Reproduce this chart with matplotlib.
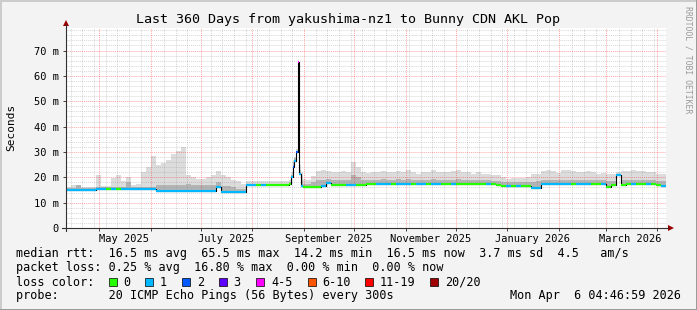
import datetime as dt

import matplotlib
matplotlib.use("Agg")
import matplotlib.dates as mdates
import matplotlib.pyplot as plt
import numpy as np
from matplotlib.lines import Line2D
from matplotlib.patches import Polygon, Rectangle

W, H = 697, 310

start = dt.datetime(2025, 4, 11, 4, 47)
end = start + dt.timedelta(days=360)

# sample days (3-day steps, daily around the late-August spike)
days = list(range(0, 133, 3)) + list(range(133, 143)) + list(range(144, 358, 3))

# median rtt in ms
median = [
    15.0, 15.0, 15.0, 15.0, 15.0, 15.0,
    15.3, 15.3, 15.3, 15.3, 15.3, 15.3, 15.3, 15.3, 15.3, 15.3, 15.3, 15.3,
    14.5, 14.5, 14.5, 14.5, 14.5, 14.5, 14.5, 14.5, 14.5, 14.5, 14.5, 14.5,
    16.0,
    14.3, 14.3, 14.3, 14.3, 14.3,
    17.0, 16.8, 16.8, 16.8, 16.8, 16.8, 16.8, 16.8, 16.8,
    # spike
    16.8, 17.5, 20.3, 24.2, 26.5, 29.8, 65.5, 21.5, 16.5, 16.3,
    16.3, 16.3, 16.3, 16.5, 17.6, 17.0, 17.0, 17.0, 17.0, 17.0, 17.0, 17.0, 17.2,
    17.3, 17.3, 17.3, 17.3, 17.3, 17.3, 17.3, 17.3, 17.3, 17.3, 17.3, 17.3, 17.3,
    17.3, 17.3, 17.3, 17.3, 17.3, 17.3, 17.3, 17.3, 17.3, 17.3, 17.3, 17.3,
    17.0, 16.7, 16.7, 16.7, 16.7, 16.7, 16.7,
    15.7, 15.7,
    17.3, 17.3, 17.3, 17.3, 17.3, 17.3, 17.3, 17.3, 17.3, 17.3, 17.3, 17.3, 17.3,
    16.0, 17.0, 21.0, 17.0,
    17.3, 17.3, 17.3, 17.3, 17.3, 17.3,
    17.0, 16.6,
]

# lost pings per sample -> index into loss_colors
loss = [
    1, 1, 1, 1, 1, 1,
    1, 1, 0, 1, 0, 1, 1, 1, 1, 1, 1, 1,
    1, 1, 1, 1, 1, 1, 1, 1, 1, 1, 1, 1,
    1,
    1, 1, 1, 1, 1,
    1, 1, 0, 1, 0, 0, 0, 0, 0,
    0, 0, 1, 2, 1, 2, 4, 1, 1, 0,
    0, 0, 0, 1, 1, 0, 0, 0, 1, 1, 0, 0, 0,
    0, 1, 1, 1, 0, 1, 1, 1, 0, 1, 1, 0, 1,
    1, 0, 0, 1, 0, 0, 0, 0, 0, 0, 1, 0,
    0, 0, 1, 0, 1, 0, 0,
    1, 1,
    1, 1, 1, 1, 1, 1, 0, 1, 1, 1, 0, 0, 1,
    0, 0, 1, 0,
    0, 1, 0, 0, 1, 0,
    0, 1,
]

# top of the smoke (highest ping), ms
smoke_hi = [
    16.0, 17.0, 16.5, 16.0, 16.0, 16.0,
    21.0, 16.5, 16.5, 19.8, 21.0, 18.5, 20.3, 17.0, 17.5, 22.0, 24.0, 28.5,
    25.0, 25.5, 27.0, 29.0, 30.5, 32.0, 21.0, 20.0, 19.5, 19.5, 20.0, 21.0,
    22.3,
    21.0, 20.0, 19.0, 18.5, 17.5,
    18.5, 18.5, 18.5, 18.5, 18.5, 18.5, 18.5, 18.5, 18.5,
    18.5, 19.0, 22.0, 27.0, 28.0, 31.0, 66.0, 25.0, 22.0, 19.5,
    19.0, 20.5, 22.5, 23.0, 22.5, 22.0, 22.0, 22.5, 22.0, 26.0, 24.0, 22.0, 21.7,
    22.0, 22.0, 22.5, 22.0, 22.0, 22.5, 22.0, 23.0, 22.0, 21.5, 22.0, 22.0, 23.0,
    22.0, 22.0, 22.0, 22.5, 23.0, 22.0, 22.0, 21.5, 22.0, 21.5, 21.5, 21.0,
    21.0, 20.0, 19.5, 19.7, 19.7, 19.7, 20.0,
    21.5, 21.5,
    22.5, 23.0, 22.5, 21.7, 22.7, 23.0, 22.5, 22.0, 22.0, 22.5, 22.0, 21.5, 21.7,
    21.5, 21.5, 22.0, 22.5,
    22.5, 23.0, 22.5, 22.5, 22.0, 22.0,
    21.5, 21.5,
]

# top of the dense (darker) part of the smoke, ms
smoke_mid = [
    15.6, 15.6, 16.8, 15.6, 15.6, 15.6,
    16.0, 16.0, 16.0, 16.0, 16.0, 16.0, 18.0, 16.0, 16.0, 16.0, 16.0, 16.0,
    17.0, 17.0, 17.0, 17.0, 17.0, 17.0, 17.5, 17.0, 17.0, 17.0, 17.0, 17.0,
    18.0,
    16.5, 16.5, 16.0, 15.5, 15.5,
    17.5, 17.5, 17.5, 17.5, 17.5, 17.5, 17.5, 17.5, 17.5,
    17.5, 18.0, 21.0, 26.0, 27.5, 30.5, 66.0, 23.0, 19.0, 17.5,
    17.5, 18.0, 19.0, 19.0, 19.5, 19.0, 19.0, 19.0, 19.0, 21.0, 20.0, 19.0, 19.0,
    19.0, 19.0, 19.5, 19.0, 19.0, 19.5, 19.0, 19.5, 19.0, 19.0, 19.0, 19.0, 19.5,
    19.0, 19.0, 19.0, 19.0, 19.5, 19.0, 19.0, 19.0, 19.0, 18.8, 18.8, 18.5,
    18.5, 18.0, 18.0, 18.0, 18.0, 18.0, 18.0,
    18.0, 18.5,
    19.0, 19.0, 19.0, 19.0, 19.0, 19.0, 19.0, 19.0, 19.0, 19.0, 19.0, 19.0, 19.0,
    18.5, 18.5, 21.0, 19.0,
    19.0, 19.0, 19.0, 19.0, 19.0, 19.0,
    18.5, 18.5,
]

loss_colors = ["#26ff00", "#00b8ff", "#0059ff", "#5e00ff",
               "#ff00ff", "#ff5500", "#ff0000", "#a00000"]
loss_labels = ["0", "1", "2", "3", "4-5", "6-10", "11-19", "20/20"]

yticks = [0, 10, 20, 30, 40, 50, 60, 70]
ytick_labels = ["0", "10 m", "20 m", "30 m", "40 m", "50 m", "60 m", "70 m"]
month_labels = ["May 2025", "July 2025", "September 2025",
                "November 2025", "January 2026", "March 2026"]

legend_lines = [
    "median rtt:  16.5 ms avg  65.5 ms max  14.2 ms min  16.5 ms now  3.7 ms sd  4.5   am/s",
    "packet loss: 0.25 % avg  16.80 % max  0.00 % min  0.00 % now",
    "loss color:",
    "probe:       20 ICMP Echo Pings (56 Bytes) every 300s",
]
stamp = "Mon Apr  6 04:46:59 2026"

MONO = "DejaVu Sans Mono"


def fx(x):
    return x / W


def fy(y):
    return 1 - y / H


t0 = mdates.date2num(start)
t1 = mdates.date2num(end)
t = t0 + np.array(days, dtype=float)
te = np.append(t, t1)
med = np.array(median)
med_e = np.append(med, med[-1])
hi_e = np.append(smoke_hi, smoke_hi[-1])
mid_e = np.append(smoke_mid, smoke_mid[-1])

fig = plt.figure(figsize=(W / 100, H / 100), dpi=100, facecolor="#f3f3f3")
ax = fig.add_axes([fx(66), fy(228), 600 / W, 200 / H])
ax.set_facecolor("white")
ax.set_xlim(t0, t1)
ax.set_ylim(0, 78.9)
for s in ax.spines.values():
    s.set_visible(False)

# smoke
ax.fill_between(te, med_e, hi_e, step="post", color="#dcdcdc", lw=0, zorder=1)
ax.fill_between(te, med_e, mid_e, step="post", color="#b4b4b4", lw=0, zorder=1.1)

# grid
month_starts = mdates.MonthLocator(bymonthday=1).tick_values(start, end)
month_starts = [m for m in month_starts if t0 < m < t1]
minor_x = mdates.WeekdayLocator(byweekday=mdates.MO).tick_values(start, end)
for m in minor_x:
    if t0 < m < t1 and min(abs(m - s) for s in month_starts) > 1:
        ax.axvline(m, color="#8c8c8c", alpha=0.35, lw=0.7, ls=(0, (1, 1)), zorder=2)
for yv in np.arange(2, 79, 2):
    if yv % 10:
        ax.axhline(yv, color="#8c8c8c", alpha=0.35, lw=0.7, ls=(0, (1, 1)), zorder=2)
for m in month_starts:
    ax.axvline(m, color="#ff0000", alpha=0.35, lw=0.7, ls=(0, (1, 1)), zorder=2.1)
for yv in yticks[1:]:
    ax.axhline(yv, color="#ff0000", alpha=0.35, lw=0.7, ls=(0, (1, 1)), zorder=2.1)

# median line: black steps, coloured by loss
ax.step(te, med_e, where="post", color="black", lw=0.8, zorder=3)
ax.hlines(med, te[:-1], te[1:], colors=[loss_colors[i] for i in loss],
          lw=1.6, zorder=4)

# ticks
ax.set_yticks(yticks)
ax.set_yticklabels(ytick_labels, family=MONO, fontsize=7.45)
ax.tick_params(axis="y", length=2.2, width=0.7, pad=3, color="#404040")
ax.set_xticks(month_starts)
ax.set_xticklabels([""] * len(month_starts))
ax.tick_params(axis="x", which="major", length=2.2, width=0.7, color="#404040")
label_pos = [mdates.date2num(dt.datetime(y, mo, 16)) for y, mo in
             [(2025, 5), (2025, 7), (2025, 9), (2025, 11), (2026, 1), (2026, 3)]]
ax.set_xticks(label_pos, minor=True)
ax.set_xticklabels(month_labels, minor=True, family=MONO, fontsize=7.45)
ax.tick_params(axis="x", which="minor", length=0, pad=4)

# axes with arrows
fig.add_artist(Line2D([fx(66), fx(66)], [fy(231), fy(25)], color="#303030", lw=0.8))
fig.add_artist(Line2D([fx(62), fx(668)], [fy(228), fy(228)], color="#303030", lw=0.8))
fig.add_artist(Polygon([(fx(63), fy(26)), (fx(69), fy(26)), (fx(66), fy(20))],
                       closed=True, color="#990000", lw=0))
fig.add_artist(Polygon([(fx(668), fy(225)), (fx(668), fy(231)), (fx(674), fy(228))],
                       closed=True, color="#990000", lw=0))

# texts
fig.text(0.5, fy(19), "Last 360 Days from yakushima-nz1 to Bunny CDN AKL Pop",
         family=MONO, fontsize=9.6, ha="center", va="center")
fig.text(fx(11), fy(127), "Seconds", family=MONO, fontsize=8.0,
         rotation=90, ha="center", va="center")
fig.text(fx(688), fy(60), "RRDTOOL / TOBI OETIKER", family=MONO, fontsize=5.85,
         rotation=270, ha="center", va="center", color="#9a9a9a")

line_y = [254, 268, 282, 296]
for txt, yy in zip(legend_lines, line_y):
    fig.text(fx(16), fy(yy), txt, family=MONO, fontsize=8.5, va="center")
fig.text(fx(681), fy(296), stamp, family=MONO, fontsize=8.5, va="center", ha="right")

box_x = [109, 145.3, 182.2, 219.1, 256.4, 307.6, 365.3, 430.2]
for bx, col, lab in zip(box_x, loss_colors, loss_labels):
    fig.add_artist(Rectangle((fx(bx), fy(286)), 8 / W, 8 / H, facecolor=col,
                             edgecolor="black", lw=0.5))
    fig.text(fx(bx + 14.5), fy(282), lab, family=MONO, fontsize=8.5, va="center")

# frame
fig.add_artist(Line2D([0, 1], [fy(0.5), fy(0.5)], color="#cbcbcb", lw=1.4))
fig.add_artist(Line2D([fx(0.5), fx(0.5)], [0, 1], color="#cbcbcb", lw=1.4))
fig.add_artist(Line2D([0, 1], [fy(309.5), fy(309.5)], color="#999999", lw=1.4))
fig.add_artist(Line2D([fx(696.5), fx(696.5)], [0, 1], color="#999999", lw=1.4))

fig.savefig("out.png", dpi=100, facecolor=fig.get_facecolor())
